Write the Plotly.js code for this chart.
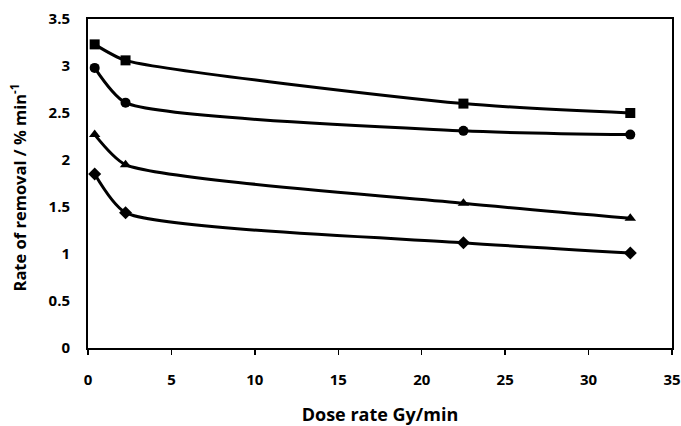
<!DOCTYPE html>
<html><head><meta charset="utf-8">
<script src="https://cdn.plot.ly/plotly-3.0.1.min.js"></script>
<style>html,body{margin:0;padding:0;background:#fff}</style>
</head><body>
<div id="chart" style="width:681px;height:426px"></div>
<script>
const doseRate = [0.4, 2.25, 22.5, 32.5];
const seriesSquare = [3.23, 3.06, 2.60, 2.50];
const seriesCircle = [2.98, 2.61, 2.31, 2.27];
const seriesTriangle = [2.27, 1.95, 1.54, 1.38];
const seriesDiamond = [1.85, 1.44, 1.12, 1.01];
const xTicks = [0, 5, 10, 15, 20, 25, 30, 35];
const yTicks = [0, 0.5, 1, 1.5, 2, 2.5, 3, 3.5];

function tr(y, sym, size) {
  return {x: doseRate, y: y, type: 'scatter', mode: 'lines+markers',
    line: {color: '#000', width: 3, shape: 'spline', smoothing: 0.6},
    marker: {symbol: sym, size: size, color: '#000'}, showlegend: false};
}
const data = [
  tr(seriesSquare, 'square', 10),
  tr(seriesCircle, 'circle', 10),
  tr(seriesTriangle, 'triangle-up', 10),
  tr(seriesDiamond, 'diamond', 10)
];
const tf = {family: 'Open Sans, sans-serif', size: 15, color: '#000', weight: 'bold'};
const layout = {
  width: 681, height: 426,
  margin: {l: 88, r: 9, t: 19, b: 78},
  paper_bgcolor: '#fff', plot_bgcolor: '#fff',
  xaxis: {range: [0, 35], tickvals: xTicks, ticktext: xTicks.map(String), showgrid: false, zeroline: false,
    showline: true, linecolor: '#000', linewidth: 2, mirror: true,
    ticks: 'outside', ticklen: 5, tickcolor: '#000', tickwidth: 1.5,
    ticklabelposition: 'outside', ticklabelstandoff: 12,
    tickfont: tf,
    title: {text: 'Dose rate Gy/min', font: {family: 'Open Sans, sans-serif', size: 18, color: '#000', weight: 'bold'}, standoff: 20}},
  yaxis: {range: [0, 3.5], tickvals: yTicks, ticktext: yTicks.map(String), showgrid: false, zeroline: false,
    showline: true, linecolor: '#000', linewidth: 2, mirror: true,
    ticks: 'outside', ticklen: 13, tickcolor: 'rgba(0,0,0,0)', tickwidth: 1.5,
    tickfont: tf},
  yaxis2: {range: [0, 3.5], overlaying: 'y', side: 'left', tickvals: yTicks, showticklabels: false,
    showgrid: false, zeroline: false, showline: false,
    ticks: 'outside', ticklen: 5, tickcolor: '#000', tickwidth: 1.5},
  annotations: [{text: 'Rate of removal / % min<sup>-1</sup>', xref: 'paper', yref: 'paper', x: 0, y: 0.5,
    xanchor: 'center', yanchor: 'middle', xshift: -69, yshift: -4, textangle: -90, showarrow: false,
    font: {family: 'Open Sans, sans-serif', size: 16.5, color: '#000', weight: 'bold'}}]
};
Plotly.newPlot('chart', data, layout, {displayModeBar: false, staticPlot: true});
</script>
</body></html>
